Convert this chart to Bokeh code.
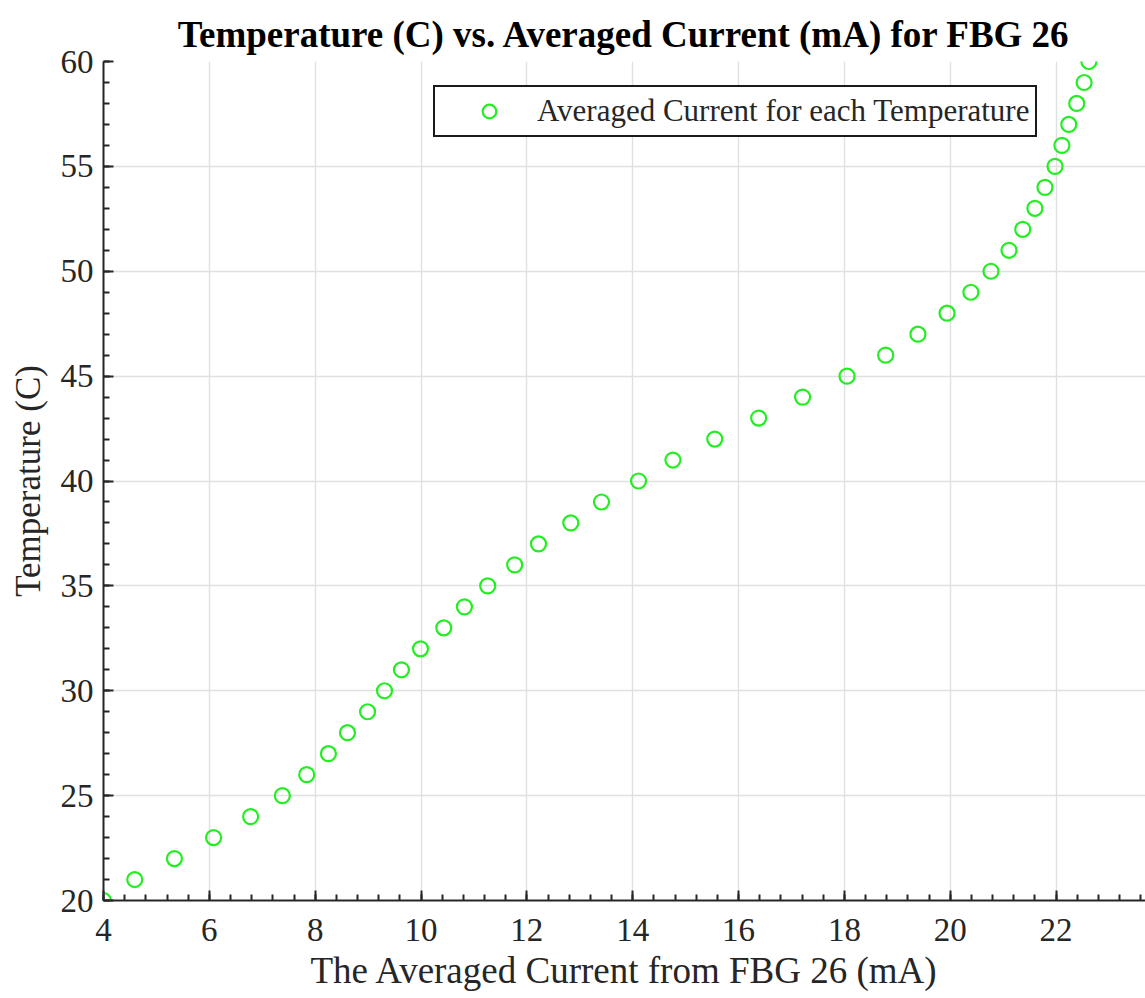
from bokeh.plotting import figure
from bokeh.models import Range1d, SingleIntervalTicker, Legend, LegendItem, ColumnDataSource
from bokeh.embed import file_html
from bokeh.resources import INLINE

# Temperature set points (C) and the averaged FBG 26 current (mA) at each
temperature_c = list(range(20, 61))
avg_current_ma = [
    4.00, 4.59, 5.34, 6.08, 6.78, 7.38, 7.84, 8.25, 8.61, 8.99,
    9.31, 9.63, 9.99, 10.43, 10.82, 11.26, 11.77, 12.22, 12.83, 13.41,
    14.11, 14.76, 15.55, 16.38, 17.21, 18.05, 18.78, 19.39, 19.94, 20.39,
    20.77, 21.11, 21.37, 21.60, 21.79, 21.98, 22.11, 22.24, 22.39, 22.53,
    22.62,
]

FONT = "Liberation Serif"
TXT = "#262626"

p = figure(
    width=1145, height=998,
    x_range=Range1d(4, 23.69), y_range=Range1d(20, 60),
    output_backend="svg", toolbar_location=None,
    min_border_left=103, min_border_right=0,
    min_border_top=61, min_border_bottom=98,
)
p.title.text = "Temperature (C) vs. Averaged Current (mA) for FBG 26"
p.title.text_font = FONT
p.title.text_font_size = "37px"
p.title.text_font_style = "bold"
p.title.align = "center"
p.title.text_color = "black"
p.title.offset = 8
p.title.standoff = 14

p.outline_line_color = None
p.background_fill_color = "white"
p.border_fill_color = "white"

for ax, step in ((p.xaxis[0], 2), (p.yaxis[0], 5)):
    ax.ticker = SingleIntervalTicker(interval=step, num_minor_ticks=5)
    ax.axis_line_color = "#262626"
    ax.axis_line_width = 2
    ax.major_tick_in = 10
    ax.major_tick_out = 0
    ax.minor_tick_in = 6
    ax.minor_tick_out = 0
    ax.major_tick_line_color = "#262626"
    ax.minor_tick_line_color = "#262626"
    ax.major_tick_line_width = 2
    ax.minor_tick_line_width = 2
    ax.major_label_text_font = FONT
    ax.major_label_text_font_size = "33px"
    ax.major_label_text_color = TXT
    ax.axis_label_text_font = FONT
    ax.axis_label_text_font_style = "normal"
    ax.axis_label_text_color = TXT

p.xaxis.axis_label = "The Averaged Current from FBG 26 (mA)"
p.yaxis.axis_label = "Temperature (C)"
p.xaxis.axis_label_text_font_size = "37px"
p.yaxis.axis_label_text_font_size = "35px"
p.xaxis.major_label_standoff = 18
p.xaxis.axis_label_standoff = 6
p.yaxis.major_label_standoff = 10
p.yaxis.axis_label_standoff = 10

p.xgrid.grid_line_color = "#e0e0e0"
p.ygrid.grid_line_color = "#e0e0e0"
p.xgrid.grid_line_width = 1.4
p.ygrid.grid_line_width = 1.4

src = ColumnDataSource(dict(x=avg_current_ma, y=temperature_c))
pts = p.scatter("x", "y", source=src, marker="circle", size=15,
                fill_color=None, line_color="#22ee22", line_width=2.2)

legend = Legend(
    items=[LegendItem(label="Averaged Current for each Temperature", renderers=[pts])],
    location=(330, 763),
    label_text_font=FONT, label_text_font_size="31px", label_text_color=TXT,
    border_line_color="#1a1a1a", border_line_alpha=1.0, border_line_width=2,
    padding=6, spacing=0, glyph_width=96, glyph_height=34, label_standoff=0,
    label_height=34, margin=0,
)
p.add_layout(legend, "center")

with open("out.html", "w") as f:
    f.write(file_html(p, INLINE))
